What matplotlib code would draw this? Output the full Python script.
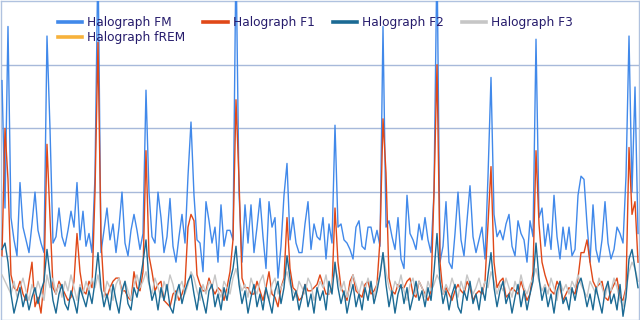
import matplotlib
matplotlib.use("Agg")
import matplotlib.pyplot as plt
import numpy as np

series_names = ["Halograph FM", "Halograph F1", "Halograph F2", "Halograph F3", "Halograph fREM"]

fm_values = [
    75, 35, 92, 32, 25, 20, 43, 29, 25, 21,
    30, 40, 28, 24, 21, 89, 60, 24, 26, 35,
    26, 23, 28, 34, 29, 43, 25, 34, 23, 27,
    21, 45, 115, 21, 28, 35, 25, 30, 21, 29,
    40, 24, 20, 28, 33, 28, 22, 27, 72, 40,
    26, 24, 40, 32, 21, 26, 38, 23, 18, 26,
    33, 24, 45, 62, 39, 25, 24, 15, 37, 31,
    24, 29, 18, 36, 23, 28, 28, 25, 115, 40,
    18, 36, 24, 36, 21, 29, 38, 26, 16, 37,
    29, 32, 13, 23, 39, 49, 25, 32, 24, 21,
    21, 30, 37, 22, 30, 26, 25, 32, 19, 30,
    24, 61, 29, 30, 25, 24, 22, 19, 29, 31,
    23, 22, 29, 29, 24, 28, 23, 92, 29, 31,
    26, 22, 32, 19, 16, 39, 27, 25, 22, 30,
    25, 32, 25, 21, 40, 115, 18, 23, 37, 18,
    16, 27, 40, 25, 20, 31, 42, 26, 21, 25,
    29, 19, 45, 76, 33, 26, 28, 25, 30, 33,
    23, 20, 31, 27, 25, 18, 31, 26, 88, 32,
    35, 23, 30, 22, 39, 26, 19, 29, 22, 29,
    20, 22, 39, 45, 44, 30, 18, 36, 22, 18,
    25, 37, 24, 19, 22, 29, 27, 24, 45, 89,
    40, 73, 27,
]

f1_values = [
    20, 60, 44, 14, 10, 9, 12, 8, 6, 12,
    18, 4, 7, 2, 12, 55, 32, 10, 8, 12,
    10, 8, 6, 7, 12, 27, 15, 9, 8, 12,
    10, 40, 87, 25, 9, 7, 10, 12, 13, 13,
    9, 9, 7, 6, 15, 10, 9, 15, 53, 20,
    15, 9, 11, 12, 6, 5, 4, 8, 9, 6,
    8, 11, 29, 33, 31, 14, 11, 9, 9, 13,
    10, 8, 10, 9, 6, 10, 15, 25, 69, 44,
    13, 10, 10, 8, 8, 12, 9, 6, 10, 15,
    8, 7, 4, 10, 13, 32, 16, 10, 9, 6,
    7, 11, 9, 9, 10, 11, 14, 11, 8, 8,
    10, 35, 18, 10, 8, 6, 12, 14, 9, 8,
    7, 11, 12, 8, 9, 11, 25, 63, 46, 13,
    9, 8, 11, 10, 10, 12, 13, 8, 7, 12,
    10, 8, 6, 9, 40, 80, 18, 8, 10, 8,
    6, 9, 11, 9, 8, 12, 10, 6, 8, 9,
    8, 12, 30, 48, 18, 10, 12, 13, 7, 8,
    10, 9, 8, 12, 9, 6, 8, 15, 53, 30,
    18, 14, 11, 9, 8, 12, 10, 6, 8, 10,
    9, 8, 13, 21, 21, 25, 18, 12, 10, 11,
    12, 7, 6, 9, 11, 13, 7, 6, 10, 54,
    33, 37, 18,
]

f2_values = [
    22, 24, 18, 8, 2, 6, 10, 4, 8, 3,
    7, 10, 5, 9, 12, 22, 14, 6, 2, 8,
    11, 5, 3, 9, 6, 2, 10, 7, 4, 9,
    5, 12, 21, 10, 4, 8, 3, 11, 6, 2,
    9, 12, 5, 3, 10, 7, 12, 18, 25, 12,
    6, 9, 3, 10, 6, 11, 4, 2, 8, 11,
    5, 9, 12, 14, 8, 3, 10, 6, 2, 9,
    11, 4, 8, 3, 10, 6, 12, 16, 23, 11,
    5, 9, 2, 7, 11, 4, 8, 3, 10, 6,
    2, 9, 12, 5, 10, 20, 13, 6, 9, 3,
    7, 11, 4, 8, 2, 10, 6, 9, 3, 12,
    8, 18, 10, 5, 9, 2, 7, 11, 4, 8,
    3, 10, 6, 12, 5, 9, 14, 21, 11, 4,
    9, 2, 8, 11, 5, 10, 3, 7, 12, 6,
    9, 4, 10, 6, 15, 27, 12, 5, 9, 3,
    8, 11, 4, 2, 9, 6, 12, 5, 8, 3,
    10, 6, 14, 21, 10, 4, 9, 12, 5, 8,
    2, 7, 11, 4, 9, 3, 8, 12, 24, 13,
    6, 10, 4, 8, 2, 9, 12, 5, 7, 3,
    10, 6, 11, 13, 9, 4, 8, 3, 10, 6,
    2, 9, 12, 5, 8, 3, 11, 1, 7, 19,
    22, 16, 10,
]

f3_values = [
    14, 12, 10, 8, 12, 7, 10, 13, 9, 6,
    11, 8, 12, 9, 6, 14, 10, 13, 8, 11,
    7, 12, 9, 14, 10, 6, 11, 8, 12, 9,
    13, 10, 14, 9, 7, 12, 10, 6, 11, 13,
    8, 12, 9, 6, 11, 14, 10, 12, 15, 11,
    8, 13, 10, 7, 12, 9, 14, 11, 6, 10,
    12, 8, 11, 15, 13, 9, 6, 11, 8, 12,
    10, 14, 9, 7, 12, 10, 8, 13, 16, 12,
    9, 11, 7, 13, 10, 8, 12, 14, 9, 6,
    11, 13, 8, 10, 12, 15, 11, 9, 7, 12,
    10, 8, 13, 11, 6, 9, 12, 10, 14, 8,
    11, 16, 13, 9, 12, 7, 10, 14, 11, 8,
    12, 9, 13, 10, 7, 11, 14, 21, 15, 10,
    8, 12, 10, 14, 9, 6, 11, 13, 8, 12,
    10, 7, 12, 9, 11, 14, 12, 8, 11, 9,
    13, 10, 7, 12, 9, 14, 11, 8, 10, 13,
    9, 12, 10, 15, 12, 8, 11, 9, 13, 10,
    7, 12, 9, 14, 10, 8, 11, 13, 16, 12,
    9, 11, 8, 13, 10, 6, 12, 9, 11, 8,
    12, 10, 14, 11, 9, 7, 12, 10, 8, 13,
    10, 7, 11, 9, 13, 10, 6, 4, 9, 15,
    18, 16, 12,
]

frem_values = []

colors = {
    "Halograph FM": "#4189ea",
    "Halograph F1": "#e04818",
    "Halograph F2": "#1b6a94",
    "Halograph F3": "#c6c6c6",
    "Halograph fREM": "#f7b23b",
}

fig = plt.figure(figsize=(6.4, 3.2), dpi=100)
ax = fig.add_axes([1 / 640, 0.5 / 320, 638 / 640, 318.5 / 320])

t = np.arange(len(fm_values))
lines = {}
lines["Halograph FM"], = ax.plot(t, fm_values, color=colors["Halograph FM"], lw=1.0, zorder=3)
lines["Halograph F1"], = ax.plot(t, f1_values, color=colors["Halograph F1"], lw=1.0, zorder=4)
lines["Halograph F3"], = ax.plot(t, f3_values, color=colors["Halograph F3"], lw=1.0, zorder=5)
lines["Halograph F2"], = ax.plot(t, f2_values, color=colors["Halograph F2"], lw=1.0, zorder=6)
lines["Halograph fREM"], = ax.plot(np.arange(len(frem_values)), frem_values,
                                   color=colors["Halograph fREM"], lw=1.0, zorder=7)

ax.set_xlim(-0.33, len(fm_values) - 1 + 0.33)
ax.set_ylim(0, 100)
ax.set_yticks([20, 40, 60, 80])
ax.set_xticks([])
ax.tick_params(left=False, labelleft=False)
ax.grid(axis="y", color="#a7b9da", lw=1.0)
ax.set_axisbelow(True)
for s in ax.spines.values():
    s.set_color("#b0c2df")
    s.set_linewidth(1.0)

order = ["Halograph FM", "Halograph fREM", "Halograph F1", "Halograph F2", "Halograph F3"]
leg_handles = []
for n in order:
    h, = ax.plot([], [], color=colors[n], lw=2.6)
    leg_handles.append(h)
leg = ax.legend(leg_handles, order, ncol=4, loc="upper left",
                bbox_to_anchor=(57 / 638, (318.5 - 15) / 318.5),
                frameon=False, fontsize=8.7, handlelength=2.0, handletextpad=0.42,
                columnspacing=1.5, labelspacing=0.18, borderpad=0, borderaxespad=0)
for txt in leg.get_texts():
    txt.set_color("#261c6c")

fig.savefig("out.png", dpi=100)
